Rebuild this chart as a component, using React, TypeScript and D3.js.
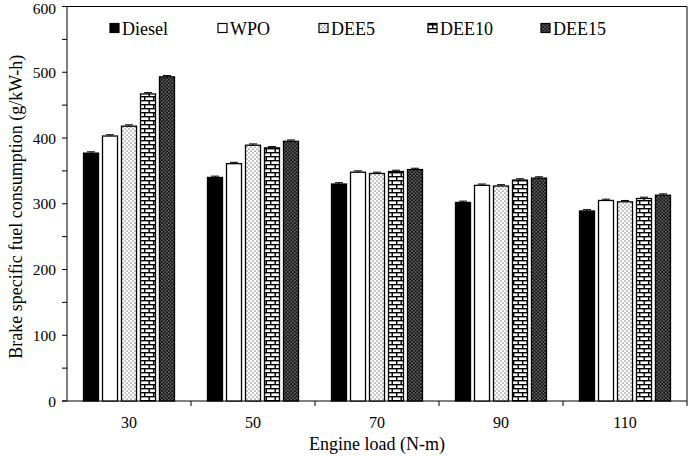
import React from "react";
import * as d3 from "d3";

const categories = ["30", "50", "70", "90", "110"];
const seriesNames = ["Diesel", "WPO", "DEE5", "DEE10", "DEE15"];
const diesel = [377, 340, 330, 302, 289];
const wpo = [403, 361, 348, 328, 305];
const dee5 = [418, 389, 346, 327, 303];
const dee10 = [467, 385, 349, 336, 308];
const dee15 = [493, 395, 352, 339, 313];
const errors = [2, 2, 2, 2, 2];
const yTicks = [0, 100, 200, 300, 400, 500, 600];

const seriesValues = [diesel, wpo, dee5, dee10, dee15];
const fills = ["#000", "#fff", "url(#pDots)", "url(#pBrick)", "url(#pDense)"];
const legendX = [110, 218, 319, 428, 541];

const W = 689;
const H = 456;
const L = 67;
const R = 687;
const T = 6.5;
const B = 401;
const FONT = "Liberation Serif, Times New Roman, serif";
const tStyle = { fontFamily: FONT };

export default function App() {
  const x = d3.scaleBand<string>().domain(categories).range([L, R]);
  const xi = d3
    .scaleBand<string>()
    .domain(seriesNames)
    .range([16.5, x.bandwidth() - 16.5])
    .paddingInner(0.21);
  const y = d3.scaleLinear().domain([0, 600]).range([B, T]);
  const minor = d3.range(50, 600, 100);

  return (
    <svg
      width={W}
      height={H}
      style={{ position: "absolute", left: 0, top: 0, background: "#fff", fontFamily: FONT }}
    >
      <defs>
        <pattern id="pDots" width="4" height="4" patternUnits="userSpaceOnUse">
          <rect width="4" height="4" fill="#fff" />
          <circle cx="1" cy="1" r="0.6" fill="#000" />
          <circle cx="3" cy="3" r="0.6" fill="#000" />
        </pattern>
        <pattern id="pBrick" width="9" height="8" patternUnits="userSpaceOnUse">
          <rect width="9" height="8" fill="#fff" />
          <rect x="0" y="0" width="9" height="1.4" fill="#000" />
          <rect x="0" y="4" width="9" height="1.4" fill="#000" />
          <rect x="0" y="0" width="1.4" height="4" fill="#000" />
          <rect x="4.5" y="4" width="1.4" height="4" fill="#000" />
        </pattern>
        <pattern id="pDense" width="3.5" height="3.5" patternUnits="userSpaceOnUse">
          <rect width="3.5" height="3.5" fill="#111" />
          <rect x="0.3" y="0.3" width="1" height="1" fill="#fff" />
          <rect x="2.05" y="2.05" width="1" height="1" fill="#fff" />
        </pattern>
      </defs>

      {/* frame */}
      <line x1={L} x2={R} y1={T} y2={T} stroke="#000" strokeWidth={1} />
      <line x1={R} x2={R} y1={T} y2={B} stroke="#000" strokeWidth={1} />
      <line x1={L} x2={L} y1={T} y2={B} stroke="#000" strokeWidth={1} />
      <line x1={L - 5} x2={R} y1={B} y2={B} stroke="#000" strokeWidth={1} />

      {/* y ticks */}
      {yTicks.map((t) => (
        <g key={"yt" + t}>
          <line x1={L - 5} x2={L} y1={y(t)} y2={y(t)} stroke="#000" />
          <text
            x={L - 11}
            y={Math.max(y(t) + 5.5, 14)}
            fontSize={15.5}
            textAnchor="end"
            fill="#000"
            style={tStyle}
          >
            {t}
          </text>
        </g>
      ))}
      {minor.map((t) => (
        <line key={"ym" + t} x1={L - 5} x2={L} y1={y(t)} y2={y(t)} stroke="#000" />
      ))}

      {/* x ticks at band boundaries */}
      {categories.map((c) => (
        <line
          key={"xt" + c}
          x1={(x(c) as number) + x.bandwidth()}
          x2={(x(c) as number) + x.bandwidth()}
          y1={B}
          y2={B + 5}
          stroke="#000"
        />
      ))}
      {categories.map((c) => (
        <text
          key={"xl" + c}
          x={(x(c) as number) + x.bandwidth() / 2}
          y={428}
          fontSize={16}
          textAnchor="middle"
          fill="#000"
          style={tStyle}
        >
          {c}
        </text>
      ))}

      {/* bars */}
      {seriesNames.map((s, si) =>
        categories.map((c, ci) => {
          const v = seriesValues[si][ci];
          const bx = (x(c) as number) + (xi(s) as number);
          const bw = xi.bandwidth();
          const e = errors[ci];
          const cx = bx + bw / 2;
          return (
            <g key={s + c}>
              <rect
                x={bx}
                y={y(v)}
                width={bw}
                height={B - y(v)}
                fill={fills[si]}
                stroke="#000"
                strokeWidth={1.3}
              />
              <line x1={cx} x2={cx} y1={y(v)} y2={y(v + e)} stroke="#000" strokeWidth={1} />
              <line x1={cx - 4} x2={cx + 4} y1={y(v + e)} y2={y(v + e)} stroke="#000" strokeWidth={1} />
            </g>
          );
        })
      )}

      {/* legend */}
      {seriesNames.map((s, si) => (
        <g key={"lg" + s}>
          <rect
            x={legendX[si]}
            y={23.5}
            width={9}
            height={9}
            fill={fills[si]}
            stroke="#000"
            strokeWidth={1.2}
          />
          <text x={legendX[si] + 12} y={35} fontSize={18} fill="#000" style={tStyle}>
            {s}
          </text>
        </g>
      ))}

      {/* axis titles */}
      <text x={(L + R) / 2} y={450} fontSize={18} textAnchor="middle" fill="#000" style={tStyle}>
        Engine load (N-m)
      </text>
      <text
        transform={`translate(22, ${(T + B) / 2 + 3}) rotate(-90)`}
        fontSize={18}
        textAnchor="middle"
        fill="#000"
        style={tStyle}
      >
        Brake specific fuel consumption (g/kW-h)
      </text>
    </svg>
  );
}
